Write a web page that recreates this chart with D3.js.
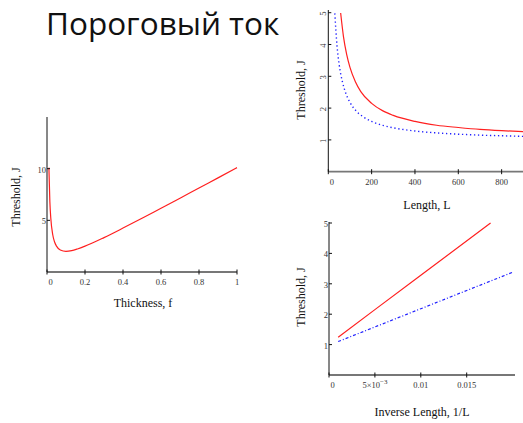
<!DOCTYPE html>
<html>
<head>
<meta charset="utf-8">
<script src="https://cdn.jsdelivr.net/npm/d3@7"></script>
<style>
  body { margin: 0; background: #fff; }
  .tick-label { font-family: "Liberation Serif", serif; font-size: 8.5px; fill: #333; }
  .axis-title { font-family: "Liberation Serif", serif; font-size: 12px; fill: #111; }
</style>
</head>
<body>
<script>
// left panel: threshold vs thickness
var thickF = [0.01, 0.015, 0.02, 0.03, 0.04, 0.05, 0.07, 0.1, 0.13, 0.16, 0.2, 0.3, 0.4, 0.5, 0.6, 0.7, 0.8, 0.9, 1.0];
var thickJ = [10.1, 6.82, 5.2, 3.63, 2.9, 2.5, 2.13, 2.0, 2.07, 2.23, 2.5, 3.33, 4.25, 5.2, 6.17, 7.14, 8.13, 9.11, 10.1];
var thickXTicks = [0, 0.2, 0.4, 0.6, 0.8, 1];
var thickYTicks = [5, 10];

// top right: threshold vs length
var lenRedL = [57, 70, 85, 100, 125, 150, 200, 250, 300, 400, 500, 600, 700, 800, 900];
var lenRedJ = [4.99, 4.25, 3.68, 3.28, 2.83, 2.52, 2.15, 1.92, 1.77, 1.58, 1.46, 1.39, 1.33, 1.29, 1.26];
var lenBlueL = [30, 40, 50, 65, 80, 100, 130, 160, 200, 250, 300, 400, 500, 600, 700, 800, 900];
var lenBlueJ = [4.98, 3.98, 3.38, 2.83, 2.48, 2.18, 1.9, 1.73, 1.58, 1.46, 1.38, 1.28, 1.22, 1.18, 1.15, 1.13, 1.11];
var lenXTicks = [0, 200, 400, 600, 800];
var lenYTicks = [1, 2, 3, 4, 5];

// bottom right: threshold vs inverse length
var invRedX = [0.001, 0.005, 0.01, 0.0176];
var invRedJ = [1.24, 2.15, 3.28, 5.0];
var invBlueX = [0.001, 0.005, 0.01, 0.015, 0.0201];
var invBlueJ = [1.1, 1.58, 2.18, 2.78, 3.39];
var invXTicks = [0, 0.005, 0.01, 0.015];
var invYTicks = [1, 2, 3, 4, 5];

var svg = d3.select("body").append("svg")
    .attr("width", 523)
    .attr("height", 423);

svg.append("text")
    .attr("x", 46)
    .attr("y", 34.5)
    .attr("style", "font-family: 'Open Sans', sans-serif; font-size: 31.5px; fill: #111;")
    .text("Пороговый ток");

function panel(o) {
    var x = d3.scaleLinear().domain(o.xd).range(o.xr);
    var y = d3.scaleLinear().domain(o.yd).range(o.yr);
    var g = svg.append("g");

    // curves
    o.series.forEach(function (s) {
        var pts = s.x.map(function (v, i) { return [v, s.y[i]]; });
        g.append("path")
            .datum(pts)
            .attr("fill", "none")
            .attr("stroke", s.color)
            .attr("stroke-width", s.width || 1.2)
            .attr("stroke-dasharray", s.dash || null)
            .attr("d", d3.line()
                .curve(o.curve || d3.curveLinear)
                .x(function (d) { return x(d[0]); })
                .y(function (d) { return y(d[1]); }));
    });

    // x axis (gray, thicker)
    g.append("line")
        .attr("x1", o.xr[0]).attr("x2", o.xEnd)
        .attr("y1", o.yr[0]).attr("y2", o.yr[0])
        .attr("stroke", "#777").attr("stroke-width", 1.8);
    // y axis
    g.append("line")
        .attr("x1", o.xr[0]).attr("x2", o.xr[0])
        .attr("y1", o.yr[0]).attr("y2", o.yTop)
        .attr("stroke", "#111").attr("stroke-width", 1);

    o.xt.forEach(function (t, i) {
        g.append("line")
            .attr("x1", x(t)).attr("x2", x(t))
            .attr("y1", o.yr[0] - 2.5).attr("y2", o.yr[0] + 2.5)
            .attr("stroke", "#111").attr("stroke-width", 1);
        var lab = g.append("text")
            .attr("class", "tick-label")
            .attr("x", x(t) + (t === 0 ? 3.5 : 0))
            .attr("y", o.yr[0] + 13)
            .attr("text-anchor", "middle");
        if (o.xfmt) o.xfmt(lab, t); else lab.text(t);
    });

    o.yt.forEach(function (t) {
        g.append("line")
            .attr("x1", o.xr[0]).attr("x2", o.xr[0] + 3)
            .attr("y1", y(t)).attr("y2", y(t))
            .attr("stroke", "#111").attr("stroke-width", 1);
        if (o.yRot) {
            g.append("text")
                .attr("class", "tick-label")
                .attr("text-anchor", "middle")
                .attr("transform", "translate(" + (o.xr[0] - 2) + "," + (y(t) + 1) + ") rotate(-90)")
                .text(t);
        } else {
            g.append("text")
                .attr("class", "tick-label")
                .attr("text-anchor", "end")
                .attr("x", o.xr[0] - 1)
                .attr("y", y(t) + 4)
                .text(t);
        }
    });

    g.append("text")
        .attr("class", "axis-title")
        .attr("text-anchor", "middle")
        .attr("x", o.xLab[0]).attr("y", o.xLab[1])
        .text(o.xTitle);
    g.append("text")
        .attr("class", "axis-title")
        .attr("text-anchor", "middle")
        .attr("transform", "translate(" + o.yLab[0] + "," + o.yLab[1] + ") rotate(-90)")
        .text(o.yTitle);
}

panel({
    xd: [0, 1], xr: [47, 237], xEnd: 237,
    yd: [0, 15], yr: [272, 117], yTop: 117,
    xt: thickXTicks, yt: thickYTicks,
    curve: d3.curveMonotoneX,
    series: [{ x: thickF, y: thickJ, color: "#ff2020" }],
    xTitle: "Thickness, f", xLab: [143, 307],
    yTitle: "Threshold, J", yLab: [20, 197]
});

panel({
    xd: [0, 900], xr: [328.3, 523.3], xEnd: 523,
    yd: [0, 5], yr: [171.7, 12.7], yTop: 10,
    xt: lenXTicks, yt: lenYTicks, yRot: true,
    curve: d3.curveMonotoneX,
    series: [
        { x: lenRedL, y: lenRedJ, color: "#ff2020" },
        { x: lenBlueL, y: lenBlueJ, color: "#2020ff", dash: "1.3,2.7", width: 1.4 }
    ],
    xTitle: "Length, L", xLab: [427, 209],
    yTitle: "Threshold, J", yLab: [305, 90]
});

panel({
    xd: [0, 0.02], xr: [329, 512.6], xEnd: 515,
    yd: [0, 5], yr: [375, 223], yTop: 222,
    xt: invXTicks, yt: invYTicks,
    series: [
        { x: invRedX, y: invRedJ, color: "#ff2020" },
        { x: invBlueX, y: invBlueJ, color: "#2020ff", dash: "3,2,1,2", width: 1.2 }
    ],
    xfmt: function (lab, t) {
        if (t === 0.005) {
            lab.text("5×10");
            lab.append("tspan").attr("dy", -4).attr("font-size", "7px").text("−3");
        } else {
            lab.text(t);
        }
    },
    xTitle: "Inverse Length, 1/L", xLab: [422, 416],
    yTitle: "Threshold, J", yLab: [305, 297]
});
</script>
</body>
</html>
